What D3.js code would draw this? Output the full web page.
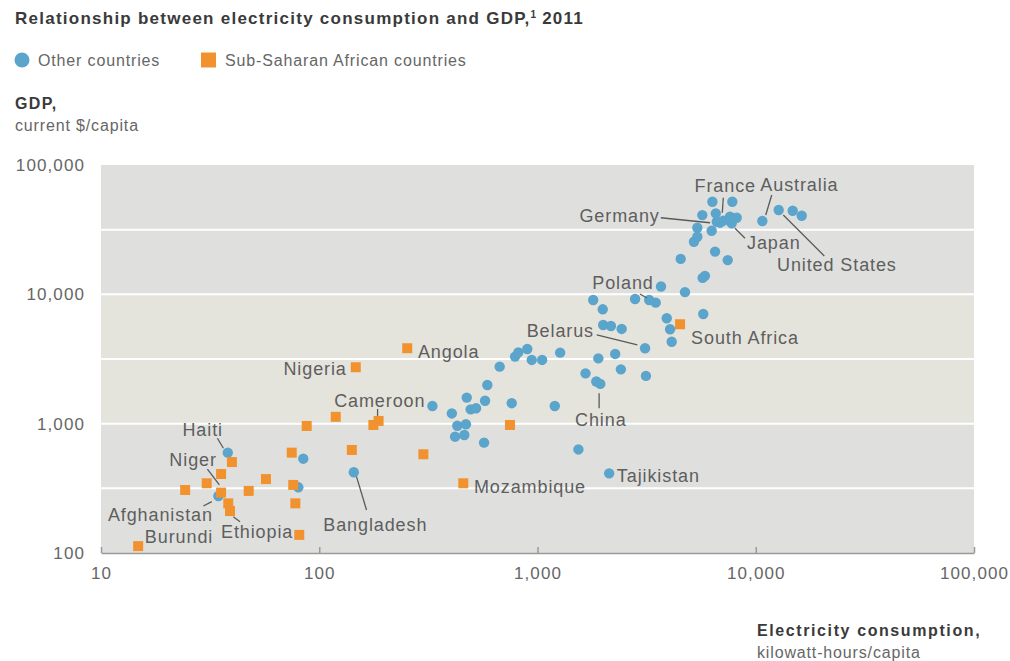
<!DOCTYPE html>
<html>
<head>
<meta charset="utf-8">
<script src="https://cdn.jsdelivr.net/npm/d3@7"></script>
<style>
  html, body { margin: 0; padding: 0; background: #fff; }
  svg { display: block; font-family: "Liberation Sans", Arial, Helvetica, sans-serif; }
</style>
</head>
<body>
<svg id="chart" width="1010" height="661"></svg>
<script>
// Electricity consumption (kWh per capita) and GDP (current $ per capita), 2011
const otherKwh = [6330, 7810, 5690, 6560, 6630, 7100, 7620, 8180, 7760, 6860,
  10720, 12740, 14770, 16240, 5400, 6280, 5400, 5210, 6510, 7440,
  4530, 5850, 5710, 3680, 4740, 2800, 3250, 3480, 1800, 1990,
  5750, 3910, 4050, 4120, 2000, 2170, 2430, 3110, 330, 405,
  474, 494, 523, 575, 589, 671, 789, 817, 898, 941,
  1050, 1270, 762, 1200, 429, 470, 419, 462, 569, 1540,
  2130, 1660, 1900, 2270, 2410, 1860, 1940, 3140, 38.1, 84.5,
  80.2, 144, 34.5];
const otherGdp = [52000, 52000, 41000, 42300, 36400, 37100, 39800, 39100, 35400, 35800,
  36900, 44900, 44300, 40500, 32700, 31000, 27900, 25500, 21400, 18400,
  18800, 13900, 13400, 11500, 10400, 9200, 9040, 8620, 9040, 7660,
  7050, 6530, 5370, 4300, 5790, 5690, 5400, 3830, 1370, 1200,
  1590, 1290, 1315, 1505, 1990, 2760, 3300, 3560, 3780, 3110,
  3110, 3540, 1440, 1370, 964, 990, 793, 817, 713, 632,
  413, 2450, 3200, 3460, 2630, 2120, 2030, 2340, 597, 536,
  322, 421, 276];
const otherNames = ["", "", "", "", "Germany", "France", "", "", "Japan", "",
  "Australia", "United States", "", "", "", "", "", "", "", "",
  "", "", "", "", "", "", "Poland", "", "", "",
  "", "", "", "", "", "", "", "Belarus", "", "",
  "", "", "", "", "", "", "", "", "", "",
  "", "", "", "", "", "", "", "", "", "",
  "Tajikistan", "", "", "", "", "", "China", "", "Haiti", "",
  "", "Bangladesh", "Afghanistan"];

const ssaKwh = [253, 147, 119, 87.6, 177, 187, 4500, 748, 300, 457,
  141, 74.8, 76, 77.7, 81, 39.8, 35.5, 30.5, 24.3, 35.5,
  38.3, 39, 57, 47.5, 14.8];
const ssaGdp = [3830, 2730, 1130, 960, 977, 1050, 5870, 977, 580, 346,
  626, 597, 336, 242, 138, 505, 408, 346, 307, 293,
  242, 211, 373, 302, 113];
const ssaNames = ["Angola", "Nigeria", "", "", "", "Cameroon", "South Africa", "", "", "Mozambique",
  "", "", "", "", "", "", "", "", "", "Niger",
  "", "Ethiopia", "", "", "Burundi"];

const xTicks = [10, 100, 1000, 10000, 100000];
const yTicks = [100, 1000, 10000, 100000];
const seriesNames = ["Other countries", "Sub-Saharan African countries"];

// Where each country label sits relative to its marker (text offset, anchor, leader line)
const labelLayout = {
  "France":        { dx: 2,     dy: -29,   anchor: "middle", leader: [0, -23, -1, -8] },
  "Australia":     { dx: -2,    dy: -30,   anchor: "start",  leader: [9.4, -26, 3.4, -6] },
  "Germany":       { dx: -57,   dy: 0.5,   anchor: "end",    leader: [-56, -4, -6.7, 1] },
  "Japan":         { dx: 15.3,  dy: 25.7,  anchor: "start",  leader: [3.3, 5, 13.3, 15] },
  "United States": { dx: -1.7,  dy: 61,    anchor: "start",  leader: [4.6, 5, 45.6, 46] },
  "Poland":        { dx: 4.5,   dy: -11,   anchor: "end",    leader: [-9.3, -6, -2.3, -2] },
  "South Africa":  { dx: 11,    dy: 19.7,  anchor: "start" },
  "Belarus":       { dx: -51,   dy: -11.3, anchor: "end",    leader: [-48.3, -13.3, -7.7, -3.3] },
  "China":         { dx: 0.5,   dy: 42,    anchor: "middle", leader: [-1.2, 9.3, -1.2, 24.3] },
  "Angola":        { dx: 10.7,  dy: 9.7,   anchor: "start" },
  "Nigeria":       { dx: -9,    dy: 7.7,   anchor: "end" },
  "Cameroon":      { dx: 1.2,   dy: -14,   anchor: "middle", leader: [-1, -12, -1, -5] },
  "Haiti":         { dx: -4.8,  dy: -16.7, anchor: "end",    leader: [-10.4, -14.4, -4.4, -4.4] },
  "Niger":         { dx: -4.2,  dy: -26.7, anchor: "end",    leader: [-13.7, -23.4, -1.7, -7.7] },
  "Afghanistan":   { dx: -5.5,  dy: 25,    anchor: "end",    leader: [-15, 10, -6.6, 5.7] },
  "Ethiopia":      { dx: -9,    dy: 27,    anchor: "start",  leader: [3.3, 5.7, 10, 10.7] },
  "Burundi":       { dx: 6.7,   dy: -3,    anchor: "start" },
  "Bangladesh":    { dx: 21.5,  dy: 58.7,  anchor: "middle", leader: [2.7, 4.4, 12.7, 37.7] },
  "Mozambique":    { dx: 10.7,  dy: 9.7,   anchor: "start" },
  "Tajikistan":    { dx: 7.7,   dy: 8.7,   anchor: "start" }
};

const BLUE = "#5ba4cc";
const ORANGE = "#f2922f";
const GREY_BAND = "#dfe0dd";
const BEIGE_BAND = "#e5e4dc";

const svg = d3.select("#chart");
const x = d3.scaleLog().domain([10, 100000]).range([101, 974]);
const y = d3.scaleLog().domain([100, 100000]).range([553, 165]);

// Title
const title = svg.append("text")
  .attr("x", 15).attr("y", 24)
  .attr("font-size", 17).attr("font-weight", "bold")
  .attr("letter-spacing", 1.25)
  .attr("fill", "#3a3a3a");
title.append("tspan").text("Relationship between electricity consumption and GDP,");
title.append("tspan").attr("font-size", 10).attr("dy", -6).attr("letter-spacing", 0).text("1");
title.append("tspan").attr("dy", 6).text(" 2011");

// Legend
const legend = svg.append("g").attr("font-size", 16).attr("letter-spacing", 0.85).attr("fill", "#666");
legend.append("circle").attr("cx", 22).attr("cy", 60).attr("r", 7.5).attr("fill", BLUE);
legend.append("text").attr("x", 38).attr("y", 66).text(seriesNames[0]);
legend.append("rect").attr("x", 201).attr("y", 52.5).attr("width", 15).attr("height", 15).attr("fill", ORANGE);
legend.append("text").attr("x", 225).attr("y", 66).text(seriesNames[1]);

// Y axis title
svg.append("text").attr("x", 15).attr("y", 109)
  .attr("font-size", 16).attr("font-weight", "bold").attr("letter-spacing", 1.4)
  .attr("fill", "#3a3a3a").text("GDP,");
svg.append("text").attr("x", 15).attr("y", 131)
  .attr("font-size", 16).attr("letter-spacing", 0.85)
  .attr("fill", "#666").text("current $/capita");

// Plot background: alternating decade bands
const bands = [[10000, 100000, GREY_BAND], [1000, 10000, BEIGE_BAND], [100, 1000, GREY_BAND]];
svg.append("g").selectAll("rect").data(bands).join("rect")
  .attr("x", x(10)).attr("width", x(100000) - x(10))
  .attr("y", d => y(d[1])).attr("height", d => y(d[0]) - y(d[1]))
  .attr("fill", d => d[2]);

// White gridlines at every half decade
const gridVals = [];
for (let e = 2; e < 5; e += 0.5) { if (e > 2) gridVals.push(Math.pow(10, e)); }
svg.append("g").selectAll("line").data(gridVals).join("line")
  .attr("x1", x(10)).attr("x2", x(100000))
  .attr("y1", d => y(d)).attr("y2", d => y(d))
  .attr("stroke", "#fff").attr("stroke-width", 2);

// Y tick labels
svg.append("g").selectAll("text").data(yTicks).join("text")
  .attr("x", 85).attr("y", d => y(d) + 6)
  .attr("text-anchor", "end")
  .attr("font-size", 17).attr("letter-spacing", 1.1)
  .attr("fill", "#666")
  .text(d => d3.format(",")(d));

// X axis
const xAxis = svg.append("g").attr("transform", `translate(0,${y(100)})`)
  .call(d3.axisBottom(x).tickValues(xTicks).tickSize(-6).tickSizeOuter(0).tickFormat(d3.format(",")));
xAxis.select(".domain").attr("stroke", "#9a9a9a").attr("stroke-width", 1.5);
xAxis.selectAll(".tick line").attr("stroke", "#9a9a9a").attr("stroke-width", 1.5);
xAxis.selectAll(".tick text")
  .attr("y", 21).attr("dy", "0.32em")
  .attr("font-size", 17).attr("letter-spacing", 1.1)
  .attr("font-family", "Liberation Sans, Arial, sans-serif")
  .attr("fill", "#666");

// X axis title
svg.append("text").attr("x", 757).attr("y", 636)
  .attr("font-size", 16).attr("font-weight", "bold").attr("letter-spacing", 1.6)
  .attr("fill", "#3a3a3a").text("Electricity consumption,");
svg.append("text").attr("x", 757).attr("y", 658)
  .attr("font-size", 16).attr("letter-spacing", 0.85)
  .attr("fill", "#666").text("kilowatt-hours/capita");

// Marks
const otherData = otherKwh.map((k, i) => ({ kwh: k, gdp: otherGdp[i], name: otherNames[i] }));
const ssaData = ssaKwh.map((k, i) => ({ kwh: k, gdp: ssaGdp[i], name: ssaNames[i] }));

svg.append("g").selectAll("circle").data(otherData).join("circle")
  .attr("cx", d => x(d.kwh)).attr("cy", d => y(d.gdp))
  .attr("r", 5.2).attr("fill", BLUE);

const sq = 10;
svg.append("g").selectAll("rect").data(ssaData).join("rect")
  .attr("x", d => x(d.kwh) - sq / 2).attr("y", d => y(d.gdp) - sq / 2)
  .attr("width", sq).attr("height", sq).attr("fill", ORANGE);

// Country labels with leader lines
const labelled = otherData.concat(ssaData).filter(d => d.name && labelLayout[d.name]);
const lab = svg.append("g");
labelled.forEach(d => {
  const L = labelLayout[d.name];
  const px = x(d.kwh), py = y(d.gdp);
  if (L.leader) {
    lab.append("line")
      .attr("x1", px + L.leader[0]).attr("y1", py + L.leader[1])
      .attr("x2", px + L.leader[2]).attr("y2", py + L.leader[3])
      .attr("stroke", "#5a5a5a").attr("stroke-width", 1.3);
  }
  lab.append("text")
    .attr("x", px + L.dx).attr("y", py + L.dy)
    .attr("text-anchor", L.anchor)
    .attr("font-size", 18).attr("letter-spacing", 0.9)
    .attr("fill", "#5e5e5e")
    .text(d.name);
});
</script>
</body>
</html>
